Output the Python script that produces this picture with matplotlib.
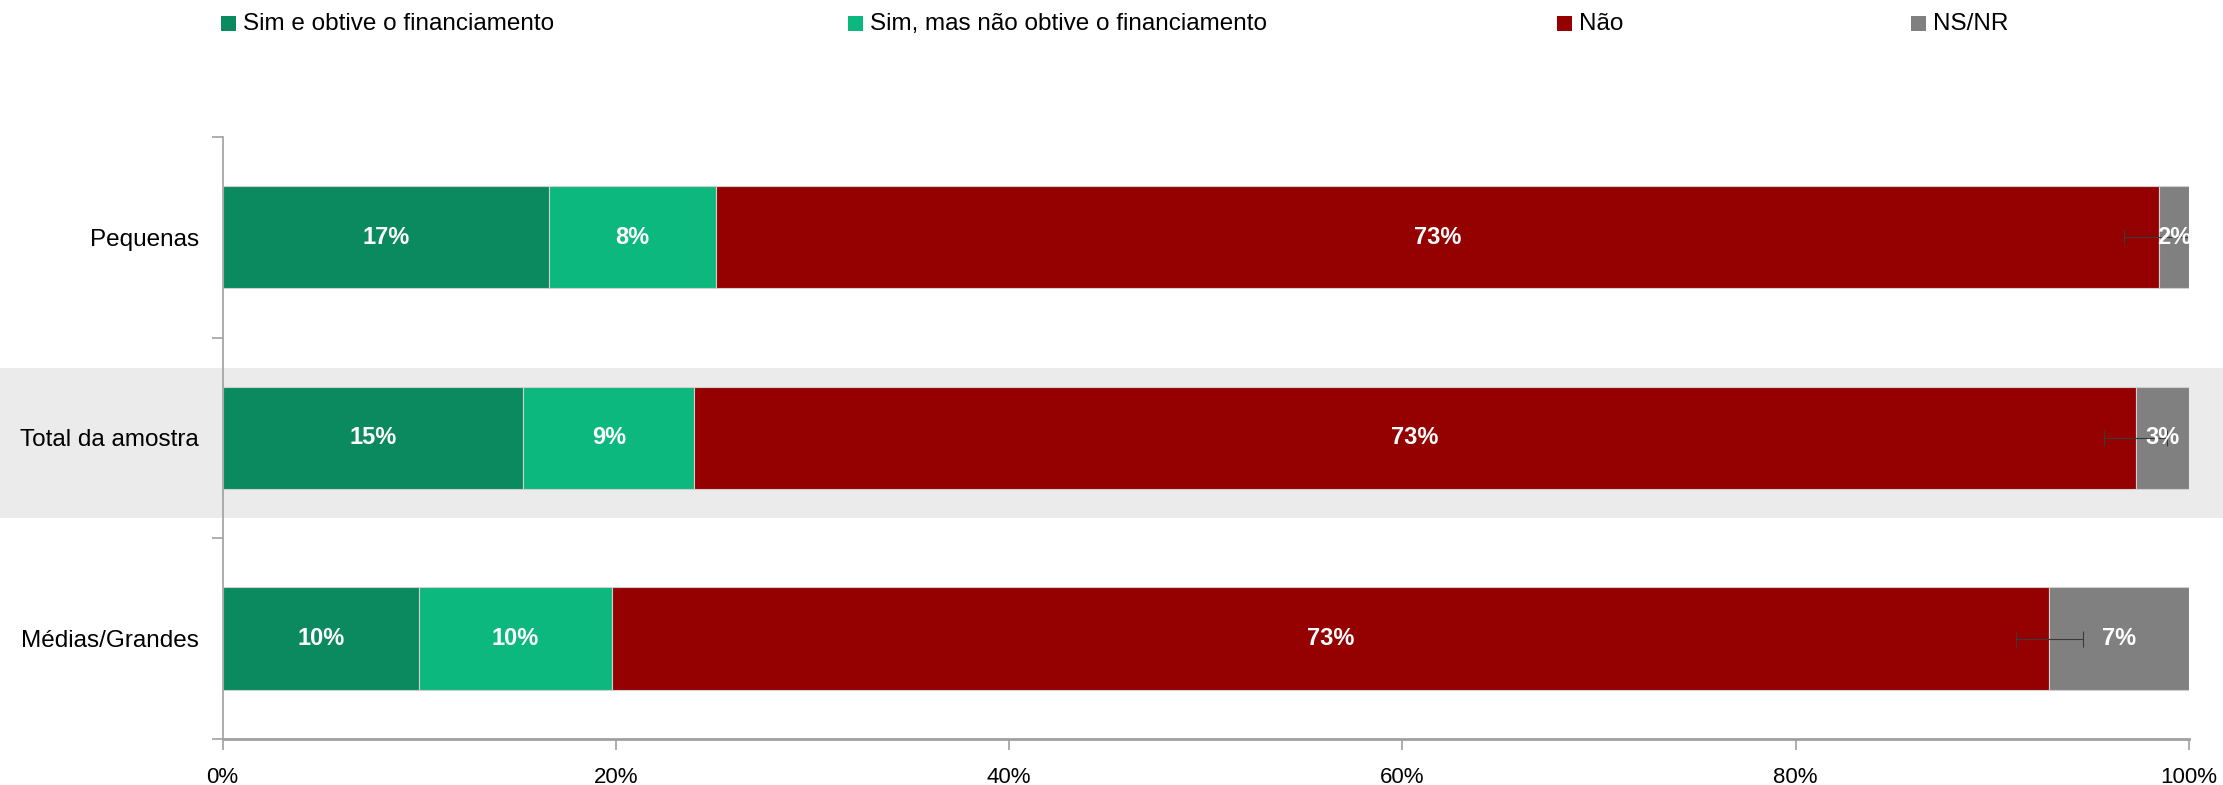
import matplotlib.pyplot as plt
import matplotlib.transforms as mtransforms
from matplotlib.patches import Rectangle
import numpy as np

plt.rcParams['font.family'] = ['Liberation Sans', 'DejaVu Sans']

# data
categories = ["Pequenas", "Total da amostra", "Médias/Grandes"]
series_names = ["Sim e obtive o financiamento", "Sim, mas não obtive o financiamento", "Não", "NS/NR"]
sim_obtive = [16.6, 15.3, 10.0]
sim_nao_obtive = [8.5, 8.7, 9.8]
nao = [73.4, 73.3, 73.1]
ns_nr = [1.5, 2.7, 7.1]
labels = [["17%", "15%", "10%"], ["8%", "9%", "10%"], ["73%", "73%", "73%"], ["2%", "3%", "7%"]]
err_half = [1.8, 1.6, 1.7]
ticks = [0, 20, 40, 60, 80, 100]

colors = ["#0A8A5E", "#0CB87E", "#950000", "#808080"]

fig = plt.figure(figsize=(22.23, 7.85), dpi=100)
ax = fig.add_axes([0.1001, 0.0586, 0.8846, 0.7669])

y = np.arange(len(categories))
series = [sim_obtive, sim_nao_obtive, nao, ns_nr]
left = np.zeros(len(categories))
for vals, col, labs in zip(series, colors, labels):
    vals = np.array(vals)
    ax.barh(y, vals, left=left, height=0.51, color=col, edgecolor="#D0D0D0",
            linewidth=0.8, zorder=2)
    for yi, (l, v, t) in enumerate(zip(left, vals, labs)):
        ax.text(l + v / 2, yi, t, ha="center", va="center", color="white",
                fontsize=17, fontweight="bold", zorder=5)
    left = left + vals

# small error-bar marks at the end of the "Não" segment
nao_end = np.array(sim_obtive) + np.array(sim_nao_obtive) + np.array(nao)
ax.errorbar(nao_end, y, xerr=err_half, fmt="none", ecolor="#3A3A3A",
            elinewidth=0.8, capsize=6, capthick=0.8, zorder=4)

# gray band behind the total row
trans = mtransforms.blended_transform_factory(fig.transFigure, ax.transData)
ax.add_patch(Rectangle((0, 1 - 0.35), 1, 0.75, transform=trans,
                       facecolor="#EBEBEB", edgecolor="none", clip_on=False, zorder=0))

ax.set_xlim(0, 100)
ax.set_ylim(2.5, -0.5)
ax.set_xticks(ticks)
ax.set_xticklabels([f"{t}%" for t in ticks], fontsize=16)
ax.set_yticks([-0.5, 0.5, 1.5, 2.5])
ax.set_yticklabels([])
ax.set_yticks(y, minor=True)
ax.set_yticklabels(categories, minor=True, fontsize=17.5)
ax.tick_params(axis="y", which="minor", length=0, pad=17)
ax.tick_params(axis="y", which="major", length=8, color="#A0A0A0", width=1.2)
ax.tick_params(axis="x", length=8, color="#A0A0A0", width=1.2, pad=12)

for s in ["top", "right"]:
    ax.spines[s].set_visible(False)
ax.spines["left"].set_color("#A0A0A0")
ax.spines["left"].set_linewidth(1.2)
ax.spines["bottom"].set_color("#A0A0A0")
ax.spines["bottom"].set_linewidth(2)
ax.patch.set_alpha(0)

# legend across the top
leg_x = [221, 848, 1557, 1911]
for xp, name, col in zip(leg_x, series_names, colors):
    fx = xp / 2223
    fig.patches.append(Rectangle((fx, 1 - 31 / 785), 15 / 2223, 15 / 785,
                                 transform=fig.transFigure, facecolor=col,
                                 edgecolor="none"))
    fig.text(fx + 22 / 2223, 1 - 24 / 785, name, fontsize=17.5, va="center", ha="left")

fig.savefig("out.png", dpi=100)
